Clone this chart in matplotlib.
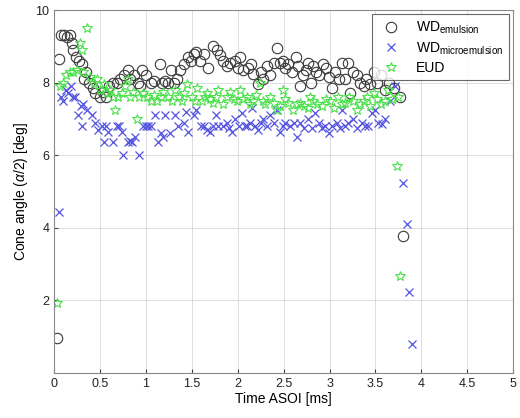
import numpy as np
import matplotlib
matplotlib.use('Agg')
import matplotlib.pyplot as plt

# --- Data ---
t_emul = [0.03, 0.05, 0.08, 0.11, 0.14, 0.17, 0.19, 0.21, 0.24, 0.27, 0.30, 0.33, 0.35, 0.38,
          0.42, 0.45, 0.50, 0.53, 0.57, 0.60, 0.64, 0.68, 0.72, 0.76, 0.80, 0.83, 0.87, 0.91,
          0.94, 0.96, 1.00, 1.05, 1.09, 1.15, 1.17, 1.21, 1.24, 1.27, 1.31, 1.34, 1.37, 1.41,
          1.46, 1.49, 1.52, 1.55, 1.59, 1.63, 1.68, 1.73, 1.77, 1.81, 1.84, 1.88, 1.92, 1.97,
          2.00, 2.03, 2.06, 2.11, 2.14, 2.17, 2.22, 2.25, 2.28, 2.32, 2.35, 2.39, 2.43, 2.46,
          2.49, 2.52, 2.55, 2.59, 2.63, 2.66, 2.68, 2.71, 2.74, 2.77, 2.80, 2.82, 2.85, 2.88,
          2.93, 2.96, 2.99, 3.03, 3.06, 3.10, 3.14, 3.17, 3.20, 3.22, 3.26, 3.30, 3.33, 3.37,
          3.40, 3.44, 3.48, 3.52, 3.56, 3.60, 3.65, 3.70, 3.77, 3.80]
cone_emul = [0.95, 8.65, 9.3, 9.3, 9.25, 9.3, 9.1, 8.9, 8.7, 8.6, 8.5, 8.1, 8.3, 8.0,
             7.85, 7.7, 7.6, 7.75, 7.6, 7.9, 8.0, 8.0, 8.1, 8.2, 8.35, 8.1, 8.2, 8.0,
             7.9, 8.35, 8.2, 8.0, 8.05, 8.5, 8.0, 8.05, 8.0, 8.35, 8.0, 8.1, 8.35, 8.5,
             8.7, 8.6, 8.8, 8.85, 8.6, 8.8, 8.4, 9.0, 8.9, 8.75, 8.6, 8.45, 8.55, 8.6,
             8.4, 8.7, 8.35, 8.4, 8.5, 8.25, 7.95, 8.3, 8.1, 8.45, 8.2, 8.55, 8.95, 8.55,
             8.6, 8.4, 8.5, 8.3, 8.7, 8.45, 7.9, 8.2, 8.35, 8.55, 8.0, 8.45, 8.3, 8.2,
             8.5, 8.4, 8.15, 7.85, 8.3, 8.1, 8.55, 8.1, 8.55, 7.7, 8.3, 8.2, 8.0, 7.9,
             8.1, 7.95, 8.3, 8.0, 8.2, 7.8, 8.0, 7.85, 7.6, 3.77]

t_micro = [0.05, 0.08, 0.10, 0.13, 0.15, 0.18, 0.21, 0.23, 0.26, 0.29, 0.30, 0.32, 0.36, 0.41,
           0.45, 0.48, 0.52, 0.54, 0.57, 0.59, 0.64, 0.68, 0.71, 0.74, 0.75, 0.80, 0.83, 0.85,
           0.88, 0.92, 0.97, 1.00, 1.02, 1.06, 1.10, 1.13, 1.16, 1.19, 1.21, 1.26, 1.32, 1.35,
           1.41, 1.44, 1.46, 1.52, 1.55, 1.60, 1.63, 1.66, 1.70, 1.73, 1.76, 1.79, 1.84, 1.88,
           1.91, 1.94, 1.97, 2.01, 2.05, 2.08, 2.10, 2.13, 2.16, 2.19, 2.22, 2.25, 2.28, 2.32,
           2.35, 2.39, 2.43, 2.46, 2.49, 2.52, 2.57, 2.61, 2.65, 2.68, 2.72, 2.76, 2.81, 2.84,
           2.88, 2.92, 2.95, 2.99, 3.03, 3.08, 3.11, 3.14, 3.17, 3.20, 3.26, 3.30, 3.35, 3.39,
           3.42, 3.46, 3.50, 3.53, 3.57, 3.60, 3.66, 3.71, 3.80, 3.84, 3.87, 3.90]
cone_micro = [4.42, 7.6, 7.5, 7.8, 7.7, 7.9, 7.6, 7.6, 7.1, 7.35, 6.8, 7.4, 7.25, 7.1,
              6.9, 6.7, 6.8, 6.35, 6.8, 6.65, 6.35, 6.8, 6.8, 6.65, 6.0, 6.35, 6.4, 6.35,
              6.5, 6.0, 6.8, 6.8, 6.8, 6.8, 7.1, 6.35, 6.6, 6.5, 7.1, 6.6, 7.1, 6.8,
              6.9, 7.2, 6.65, 7.1, 7.25, 6.8, 6.8, 6.7, 6.65, 6.8, 7.1, 6.8, 6.8, 6.9,
              6.75, 6.65, 7.0, 6.8, 7.15, 6.8, 6.8, 6.9, 7.3, 6.8, 6.7, 6.9, 7.0, 6.8,
              7.1, 6.9, 7.25, 6.65, 6.8, 6.9, 6.8, 6.9, 6.5, 6.9, 6.75, 7.0, 6.75, 7.15,
              6.9, 6.75, 6.8, 6.6, 6.8, 6.9, 6.75, 7.25, 6.8, 6.9, 7.0, 6.75, 6.9, 6.8,
              6.8, 7.15, 7.25, 6.9, 6.85, 7.0, 7.5, 7.9, 5.22, 4.1, 2.22, 0.8]

t_eud = [0.03, 0.06, 0.10, 0.13, 0.17, 0.21, 0.25, 0.28, 0.30, 0.32, 0.36, 0.39, 0.43, 0.47,
         0.50, 0.54, 0.58, 0.61, 0.64, 0.66, 0.70, 0.74, 0.77, 0.80, 0.83, 0.86, 0.90, 0.92,
         0.97, 1.01, 1.05, 1.09, 1.12, 1.16, 1.19, 1.24, 1.28, 1.32, 1.36, 1.39, 1.42, 1.45,
         1.50, 1.53, 1.56, 1.61, 1.64, 1.67, 1.70, 1.73, 1.76, 1.79, 1.84, 1.88, 1.92, 1.96,
         1.99, 2.03, 2.06, 2.10, 2.13, 2.17, 2.20, 2.24, 2.27, 2.30, 2.35, 2.39, 2.43, 2.46,
         2.49, 2.52, 2.55, 2.60, 2.64, 2.68, 2.72, 2.76, 2.79, 2.82, 2.86, 2.92, 2.96, 3.01,
         3.05, 3.09, 3.13, 3.17, 3.21, 3.25, 3.30, 3.33, 3.37, 3.41, 3.44, 3.48, 3.52, 3.56,
         3.60, 3.64, 3.68, 3.73, 3.75, 3.77]
cone_eud = [1.92, 7.9, 8.0, 8.2, 8.3, 8.3, 8.35, 9.1, 8.9, 8.3, 9.5, 8.15, 8.0, 8.1,
            7.8, 7.95, 7.7, 7.8, 7.6, 7.25, 7.6, 7.7, 7.9, 8.1, 7.6, 7.75, 7.0, 7.6,
            7.7, 7.6, 7.5, 7.65, 7.5, 7.6, 7.75, 7.6, 7.5, 7.8, 7.6, 7.5, 7.7, 7.95,
            7.6, 7.5, 7.85, 7.5, 7.6, 7.7, 7.55, 7.45, 7.6, 7.8, 7.4, 7.6, 7.75, 7.55,
            7.5, 7.8, 7.55, 7.6, 7.4, 7.5, 7.65, 8.0, 7.5, 7.4, 7.6, 7.45, 7.25, 7.35,
            7.8, 7.55, 7.45, 7.25, 7.4, 7.45, 7.35, 7.3, 7.6, 7.5, 7.4, 7.35, 7.55, 7.5,
            7.3, 7.6, 7.4, 7.45, 7.6, 7.5, 7.25, 7.4, 7.5, 7.6, 7.35, 7.7, 7.55, 7.4,
            7.5, 7.8, 7.55, 5.7, 7.6, 2.67]

x_ticks = [0, 0.5, 1, 1.5, 2, 2.5, 3, 3.5, 4, 4.5, 5]
x_tick_labels = ['0', '0.5', '1', '1.5', '2', '2.5', '3', '3.5', '4', '4.5', '5']
y_ticks = [2, 4, 6, 8, 10]

# --- Style ---
plt.rcParams['font.family'] = ['Liberation Sans', 'DejaVu Sans']
plt.rcParams['mathtext.fontset'] = 'custom'
plt.rcParams['mathtext.rm'] = 'Liberation Sans'
plt.rcParams['mathtext.it'] = 'Liberation Sans:italic'

fig = plt.figure(figsize=(5.2, 4.18), dpi=100)
ax = fig.add_axes([0.104, 0.108, 0.883, 0.868])

ax.plot(t_emul, cone_emul, 'o', markerfacecolor='none', markeredgecolor='#3a3a3a',
        markersize=7.5, markeredgewidth=0.8, label=r'WD$_{\mathrm{emulsion}}$')
ax.plot(t_micro, cone_micro, 'x', color='#5252e0', markersize=5.5, markeredgewidth=0.9,
        label=r'WD$_{\mathrm{microemulsion}}$')
ax.plot(t_eud, cone_eud, '*', markerfacecolor='none', markeredgecolor='#4de04d',
        markersize=7.5, markeredgewidth=0.8, label='EUD')

ax.set_xlim(0, 5)
ax.set_ylim(0, 10)
ax.set_xticks(x_ticks)
ax.set_xticklabels(x_tick_labels)
ax.set_yticks(y_ticks)
ax.tick_params(direction='in', labelsize=9, length=3, colors='#444444', labelcolor='#222222')
ax.grid(True, color='#d8d8d8', linewidth=0.6)
for s in ax.spines.values():
    s.set_color('#888888')

ax.set_xlabel('Time ASOI [ms]', fontsize=10, labelpad=2)
ax.set_ylabel(r'Cone angle ($\alpha$/2) [deg]', fontsize=10, labelpad=4)

leg = ax.legend(loc='upper right', fontsize=10, frameon=True, fancybox=False,
                borderaxespad=0.3, handletextpad=0.8, labelspacing=0.3, borderpad=0.4)
leg.get_frame().set_edgecolor('#444444')
leg.get_frame().set_linewidth(0.8)

plt.savefig('out.png', dpi=100)
